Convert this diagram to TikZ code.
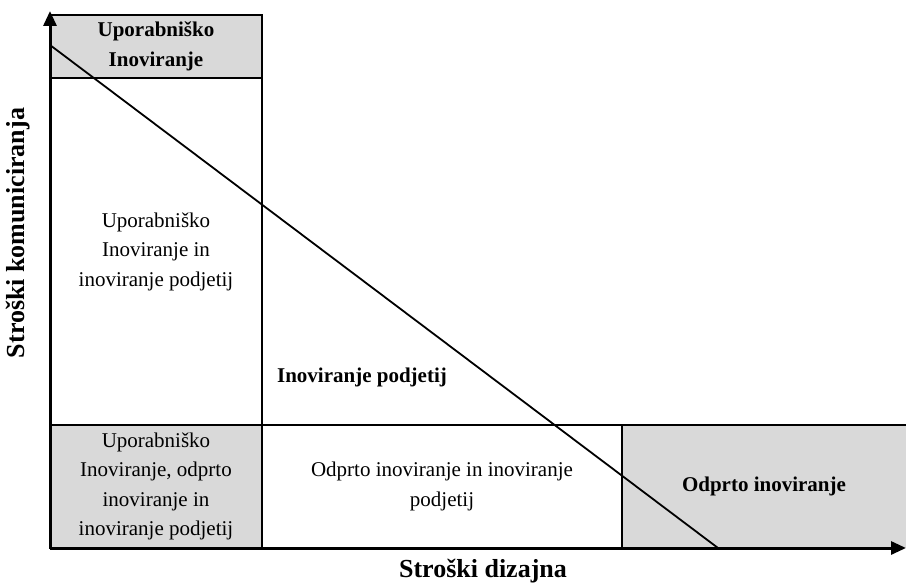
\documentclass[tikz,border=0pt]{standalone}
\usepackage{fontspec}
\setmainfont{Liberation Serif}
\usetikzlibrary{arrows.meta}
\definecolor{cellgray}{HTML}{D9D9D9}
\begin{document}
\begin{tikzpicture}[x=1pt,y=-1pt,
  cell/.style={draw=black, line width=2pt, inner sep=0pt, align=center,
    font=\fontsize{21}{29.5}\selectfont},
  shaded/.style={fill=cellgray},
  boldtxt/.style={font=\fontsize{21}{29.5}\selectfont\bfseries, align=center},
  axislabel/.style={font=\fontsize{26}{30}\selectfont\bfseries},
  axis/.style={line width=3pt, -{Triangle[length=15pt,width=13pt]}},
  trend/.style={line width=1.8pt}]
\useasboundingbox (0,0) rectangle (906,583);

% left column
\node[cell, shaded, boldtxt, minimum width=212pt, minimum height=63pt] (ui) at (156,46.5)
  {Uporabniško\\Inoviranje};
\node[cell, minimum width=212pt, minimum height=347pt] (uip) at (156,251.5)
  {Uporabniško\\Inoviranje in\\inoviranje podjetij};
\node[cell, shaded, minimum width=212pt, minimum height=123pt] (all) at (156,486.5)
  {Uporabniško\\Inoviranje, odprto\\inoviranje in\\inoviranje podjetij};

% bottom row
\node[cell, minimum width=360pt, minimum height=123pt] (oip) at (442,486.5)
  {Odprto inoviranje in inoviranje\\podjetij};
\node[shaded, boldtxt, minimum width=284pt, minimum height=123pt, inner sep=0pt] (oi) at (764,486.5)
  {Odprto inoviranje};
\draw[line width=2pt] (oi.north west) -- (oi.north east);
\draw[line width=2pt] (oi.north west) -- (oi.south west);

% free region label
\node[boldtxt] (ip) at (362,377) {Inoviranje podjetij};

% trend line
\coordinate (d1) at (50,45);
\coordinate (d2) at (718,548);
\draw[trend] (d1) -- (d2);

% axes
\coordinate (o) at (50,548);
\coordinate (ytop) at (50,11);
\coordinate (xend) at (906,548);
\draw[axis] (o) -- (ytop);
\draw[axis] (o) -- (xend);

% axis titles
\node[axislabel] (xl) at (483,571) {Stroški dizajna};
\node[axislabel, rotate=90] (yl) at (18,233) {Stroški komuniciranja};
\end{tikzpicture}
\end{document}
